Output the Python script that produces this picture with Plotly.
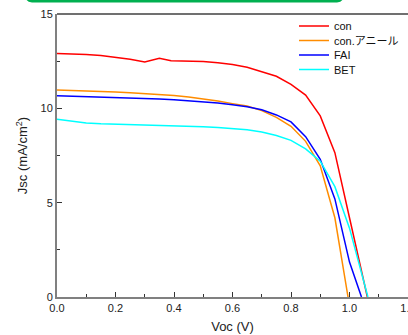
import plotly.graph_objects as go

con_v = [0, 0.05, 0.1, 0.15, 0.2, 0.25, 0.3, 0.35, 0.39, 0.45, 0.5, 0.55, 0.6, 0.65, 0.7, 0.75, 0.8, 0.85, 0.9, 0.95, 1.0, 1.061]
con_j = [12.9, 12.88, 12.85, 12.8, 12.72, 12.6, 12.46, 12.66, 12.52, 12.5, 12.48, 12.42, 12.32, 12.18, 11.96, 11.7, 11.27, 10.7, 9.6, 7.65, 4.2, 0]

ann_v = [0, 0.05, 0.1, 0.15, 0.2, 0.25, 0.3, 0.35, 0.4, 0.45, 0.5, 0.55, 0.6, 0.65, 0.7, 0.75, 0.8, 0.85, 0.9, 0.95, 0.995]
ann_j = [10.97, 10.95, 10.92, 10.89, 10.86, 10.82, 10.78, 10.73, 10.68, 10.6, 10.5, 10.39, 10.25, 10.12, 9.88, 9.52, 9.05, 8.25, 6.95, 4.2, 0]

fai_v = [0, 0.05, 0.1, 0.15, 0.2, 0.25, 0.3, 0.35, 0.4, 0.45, 0.5, 0.55, 0.6, 0.65, 0.7, 0.75, 0.8, 0.85, 0.9, 0.95, 1.0, 1.041]
fai_j = [10.67, 10.65, 10.62, 10.6, 10.57, 10.55, 10.52, 10.49, 10.45, 10.4, 10.35, 10.28, 10.19, 10.08, 9.92, 9.65, 9.28, 8.5, 7.3, 5.2, 1.85, 0]

bet_v = [0, 0.05, 0.1, 0.15, 0.2, 0.25, 0.3, 0.35, 0.4, 0.45, 0.5, 0.55, 0.6, 0.65, 0.7, 0.75, 0.8, 0.85, 0.9, 0.95, 1.0, 1.063]
bet_j = [9.42, 9.3, 9.22, 9.18, 9.16, 9.15, 9.14, 9.12, 9.1, 9.07, 9.03, 8.98, 8.93, 8.86, 8.75, 8.56, 8.3, 7.85, 7.2, 5.85, 3.65, 0]

names = ["con", "con.アニール", "FAI", "BET"]
colors = ["#ff0000", "#ff8c00", "#0000ff", "#00ffff"]
series = [(con_v, con_j), (ann_v, ann_j), (fai_v, fai_j), (bet_v, bet_j)]
legend_ids = ["legend", "legend2", "legend3", "legend4"]

x_ticks = [0, 0.2, 0.4, 0.6, 0.8, 1.0, 1.2]
x_ticktext = ["0.0", "0.2", "0.4", "0.6", "0.8", "1.0", "1.2"]
y_ticks = [0, 5, 10, 15]

FONT = "Liberation Sans, Arial, Noto Sans CJK JP, sans-serif"

fig = go.Figure()
for (v, j), name, c, lg in zip(series, names, colors, legend_ids):
    fig.add_trace(go.Scatter(x=v, y=j, mode="lines", name=name,
                             line=dict(color=c, width=1.5), legend=lg))

W, H = 408, 335
L, R, T, B = 57, 0, 14, 38
pw, ph = W - L - R, H - T - B

def py(pix):
    return (H - B - pix) / ph

def px(pix):
    return (pix - L) / pw

leg_y = [26, 40.5, 55, 69.5]
legend_common = dict(x=px(294), xanchor="left", yanchor="middle",
                     bgcolor="rgba(0,0,0,0)", borderwidth=0,
                     font=dict(family=FONT, size=11, color="#111"),
                     itemwidth=30, tracegroupgap=0)
layout_legends = {}
for lg, yy in zip(legend_ids, leg_y):
    layout_legends[lg] = dict(legend_common, y=py(yy))

axis_common = dict(showline=True, linecolor="#808080", linewidth=2, mirror=False,
                   ticks="inside", ticklen=5, tickcolor="#333", tickwidth=1,
                   showgrid=False, zeroline=False, automargin=False,
                   ticklabeloverflow="allow",
                   tickfont=dict(family=FONT, size=11, color="#222"))

fig.update_layout(
    width=W, height=H,
    margin=dict(l=L, r=R, t=T, b=B),
    paper_bgcolor="white", plot_bgcolor="white",
    showlegend=True,
    xaxis=dict(axis_common, range=[0, 1.2], tickvals=x_ticks, ticktext=x_ticktext,
               minor=dict(dtick=0.1, ticks="inside", ticklen=3, tickcolor="#333"),
               title=dict(text="Voc (V)", font=dict(family=FONT, size=13, color="#222"), standoff=9)),
    yaxis=dict(axis_common, range=[0, 15], tickvals=y_ticks,
               minor=dict(dtick=2.5, ticks="inside", ticklen=3, tickcolor="#333"),
               title=dict(text="Jsc (mA/cm<sup>2</sup>)", font=dict(family=FONT, size=13, color="#222"), standoff=10)),
    **layout_legends,
)

# top frame line
fig.add_shape(type="line", xref="paper", yref="paper", x0=0, x1=1, y0=1, y1=1,
              line=dict(color="#404040", width=1.5))

# green banner border (cut off at top of image)
x0, x1 = px(27), px(342)
yb, yt = py(1.2), py(-20)
rx, ry = 5 / pw, 5 / ph
path = (f"M {x0},{yt} L {x0},{yb + ry} Q {x0},{yb} {x0 + rx},{yb} "
        f"L {x1 - rx},{yb} Q {x1},{yb} {x1},{yb + ry} L {x1},{yt}")
fig.add_shape(type="path", path=path, xref="paper", yref="paper",
              line=dict(color="#00b050", width=2.5), layer="above")

fig.write_html("out.html")
